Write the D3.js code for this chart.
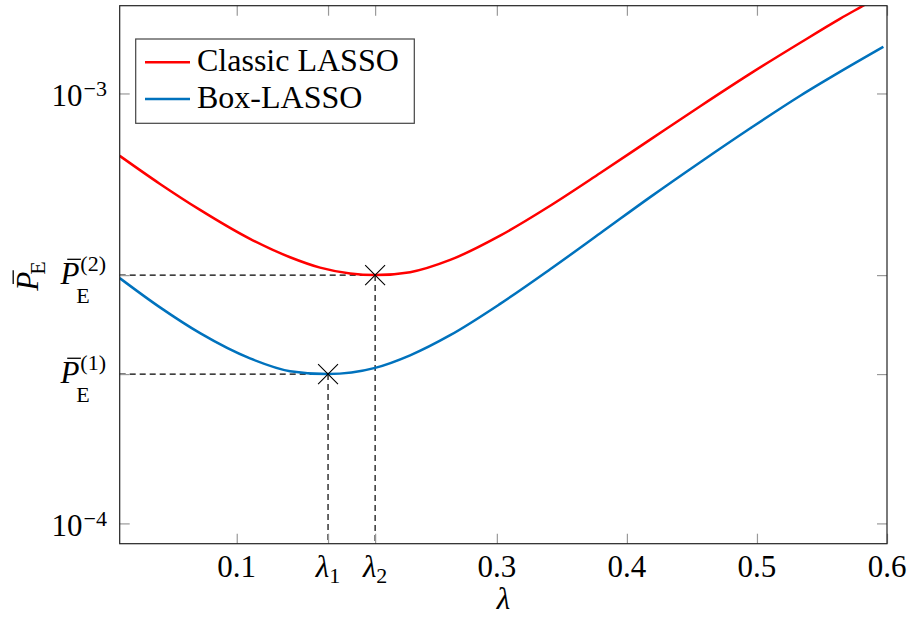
<!DOCTYPE html>
<html><head><meta charset="utf-8">
<script src="https://cdn.jsdelivr.net/npm/d3@7"></script>
<style>body{margin:0;background:#fff} svg{display:block}</style>
</head><body><svg id="c" width="909" height="618"></svg>
<script>
// ---- data ----
const classicLambda = [0.0100,0.0410,0.0718,0.1102,0.1410,0.1641,0.1872,0.2064,0.2333,0.2641,0.3025,0.3410,0.3795,0.4179,0.4564,0.4949,0.5333,0.5641,0.5810,0.5972];
const classicPE = [7.16e-4,6.16e-4,5.36e-4,4.59e-4,4.16e-4,3.935e-4,3.813e-4,3.78e-4,3.84e-4,4.10e-4,4.67e-4,5.48e-4,6.53e-4,7.81e-4,9.34e-4,1.112e-3,1.312e-3,1.493e-3,1.596e-3,1.702e-3];
const boxLambda = [0.0100,0.0410,0.0718,0.1102,0.1410,0.1702,0.2064,0.2333,0.2641,0.3025,0.3410,0.3795,0.4179,0.4564,0.4949,0.5333,0.5641,0.5972];
const boxPE = [3.72e-4,3.18e-4,2.77e-4,2.42e-4,2.26e-4,2.225e-4,2.30e-4,2.46e-4,2.74e-4,3.24e-4,3.90e-4,4.73e-4,5.74e-4,6.92e-4,8.30e-4,9.88e-4,1.124e-3,1.284e-3];
const seriesNames = ["Classic LASSO", "Box-LASSO"];
const lambda1 = 0.1702, lambda2 = 0.2064;
const PE1 = 2.225e-4, PE2 = 3.78e-4;
const xTickValues = [0.1, 0.3, 0.4, 0.5, 0.6];
const xTickLabels = ["0.1", "0.3", "0.4", "0.5", "0.6"];
const yPowerTicks = [1e-4, 1e-3];
const yPowerLabels = ["\u22124", "\u22123"];
const xDomain = [0.01, 0.6];
const yDomain = [8.97e-5, 1.6e-3];

// ---- layout ----
const L = 119.7, R = 887, T = 5.7, B = 543.7;
const FONT = "'Liberation Serif', 'Times New Roman', serif";
const FS = 31, SFS = 22, LFS = 32;
const colors = ["#ff0000", "#0072bd"];

const svg = d3.select("#c");
const x = d3.scaleLinear().domain(xDomain).range([L, R]);
const y = d3.scaleLog().domain(yDomain).range([B, T]);

svg.append("defs").append("clipPath").attr("id","clip")
  .append("rect").attr("x",L).attr("y",T).attr("width",R-L).attr("height",B-T);

// dashed guides
const guides = svg.append("g").attr("stroke","#000").attr("stroke-width",1.2).attr("stroke-dasharray","6,4").attr("fill","none");
[[lambda1,PE1],[lambda2,PE2]].forEach(([lx,py])=>{
  guides.append("line").attr("x1",x(xDomain[0])).attr("x2",x(lx)).attr("y1",y(py)).attr("y2",y(py));
  guides.append("line").attr("x1",x(lx)).attr("x2",x(lx)).attr("y1",y(py)).attr("y2",y(yDomain[0]));
});

// curves
const line = d3.line().x(d=>x(d[0])).y(d=>y(d[1])).curve(d3.curveMonotoneX);
const series = [d3.zip(classicLambda, classicPE), d3.zip(boxLambda, boxPE)];
const cg = svg.append("g").attr("clip-path","url(#clip)");
series.forEach((s,i)=>{
  cg.append("path").attr("d", line(s)).attr("fill","none").attr("stroke",colors[i]).attr("stroke-width",2.5);
});

// markers
[[lambda1,PE1],[lambda2,PE2]].forEach(([lx,py])=>{
  svg.append("path").attr("d", d3.symbol().type(d3.symbolX).size(260)())
    .attr("transform",`translate(${x(lx)},${y(py)})`)
    .attr("fill","none").attr("stroke","#000").attr("stroke-width",1.1);
});

// frame and ticks
const allXTicks = [xTickValues[0], lambda1, lambda2, ...xTickValues.slice(1)];
const allYTicks = [1e-4, PE1, PE2, 1e-3];
const tickStyle = g => { g.select(".domain").remove(); g.selectAll("line").attr("stroke","#999").attr("stroke-width",1.2); g.selectAll("text").remove(); };
svg.append("g").attr("transform",`translate(0,${B})`).call(d3.axisBottom(x).tickValues(allXTicks).tickSize(-10).tickFormat("")).call(tickStyle);
svg.append("g").attr("transform",`translate(0,${T})`).call(d3.axisTop(x).tickValues(allXTicks).tickSize(-10).tickFormat("")).call(tickStyle);
svg.append("g").attr("transform",`translate(${L},0)`).call(d3.axisLeft(y).tickValues(allYTicks).tickSize(-10).tickFormat("")).call(tickStyle);
svg.append("g").attr("transform",`translate(${R},0)`).call(d3.axisRight(y).tickValues(allYTicks).tickSize(-10).tickFormat("")).call(tickStyle);
svg.append("rect").attr("x",L).attr("y",T).attr("width",R-L).attr("height",B-T).attr("fill","none").attr("stroke","#222").attr("stroke-width",1.2);

// x tick labels
const xl = svg.append("g").attr("font-family",FONT).attr("font-size",FS).attr("fill","#000").attr("text-anchor","middle");
xTickValues.forEach((v,i)=>{ xl.append("text").attr("x",x(v)).attr("y",577).text(xTickLabels[i]); });
[[lambda1,"1"],[lambda2,"2"]].forEach(([v,s])=>{
  const t = xl.append("text").attr("x",x(v)).attr("y",577);
  t.append("tspan").attr("font-style","italic").text("\u03bb");
  t.append("tspan").attr("font-size",SFS).attr("dy",6).text(s);
});
// x axis title
xl.append("text").attr("x",(L+R)/2).attr("y",609).attr("font-style","italic").text("\u03bb");

// y tick labels: powers of ten
yPowerTicks.forEach((v,i)=>{
  const t = svg.append("text").attr("font-family",FONT).attr("font-size",FS).attr("text-anchor","end")
    .attr("x",107).attr("y",y(v)+13);
  t.append("tspan").text("10");
  t.append("tspan").attr("font-size",SFS).attr("dy",-10).attr("dx",1).text(yPowerLabels[i]);
});

// P-bar labels
function pLabel(parent, sup, sub, subFS){
  const g = parent.append("g").attr("font-family",FONT);
  const p = g.append("text").attr("x",0).attr("y",0).attr("font-size",FS).attr("font-style","italic").text("P");
  const wP = p.node().getComputedTextLength();
  g.append("line").attr("x1",0.22*FS).attr("x2",wP+0.05*FS).attr("y1",-0.8*FS).attr("y2",-0.8*FS)
    .attr("stroke","#000").attr("stroke-width",1.3);
  let right = wP;
  if (sup){
    const s = g.append("text").attr("x",wP+1).attr("y",-13).attr("font-size",SFS).text(sup);
    right = Math.max(right, wP+1+s.node().getComputedTextLength());
  }
  const sb = g.append("text").attr("x",wP-3).attr("y",sup?19:7).attr("font-size",subFS).text(sub);
  right = Math.max(right, wP-3+sb.node().getComputedTextLength());
  return {g, right};
}
[[PE2,"(2)"],[PE1,"(1)"]].forEach(([v,s])=>{
  const {g,right} = pLabel(svg, s, "E", SFS);
  g.attr("transform",`translate(${106-right},${y(v)+9})`);
});
// y axis title (rotated)
{
  const {g,right} = pLabel(svg, null, "E", SFS);
  g.attr("transform",`translate(38,${276}) rotate(-90) translate(${-right/2},0)`);
}

// legend
const lg = svg.append("g");
lg.append("rect").attr("x",135.7).attr("y",39).attr("width",278.6).attr("height",84.3).attr("fill","#fff").attr("stroke","#444").attr("stroke-width",1.2);
seriesNames.forEach((n,i)=>{
  const yy = 62.3 + i*36.7;
  lg.append("line").attr("x1",145).attr("x2",190).attr("y1",yy).attr("y2",yy).attr("stroke",colors[i]).attr("stroke-width",2.5);
  lg.append("text").attr("x",197).attr("y",yy+9).attr("font-family",FONT).attr("font-size",LFS).text(n);
});
</script></body></html>
